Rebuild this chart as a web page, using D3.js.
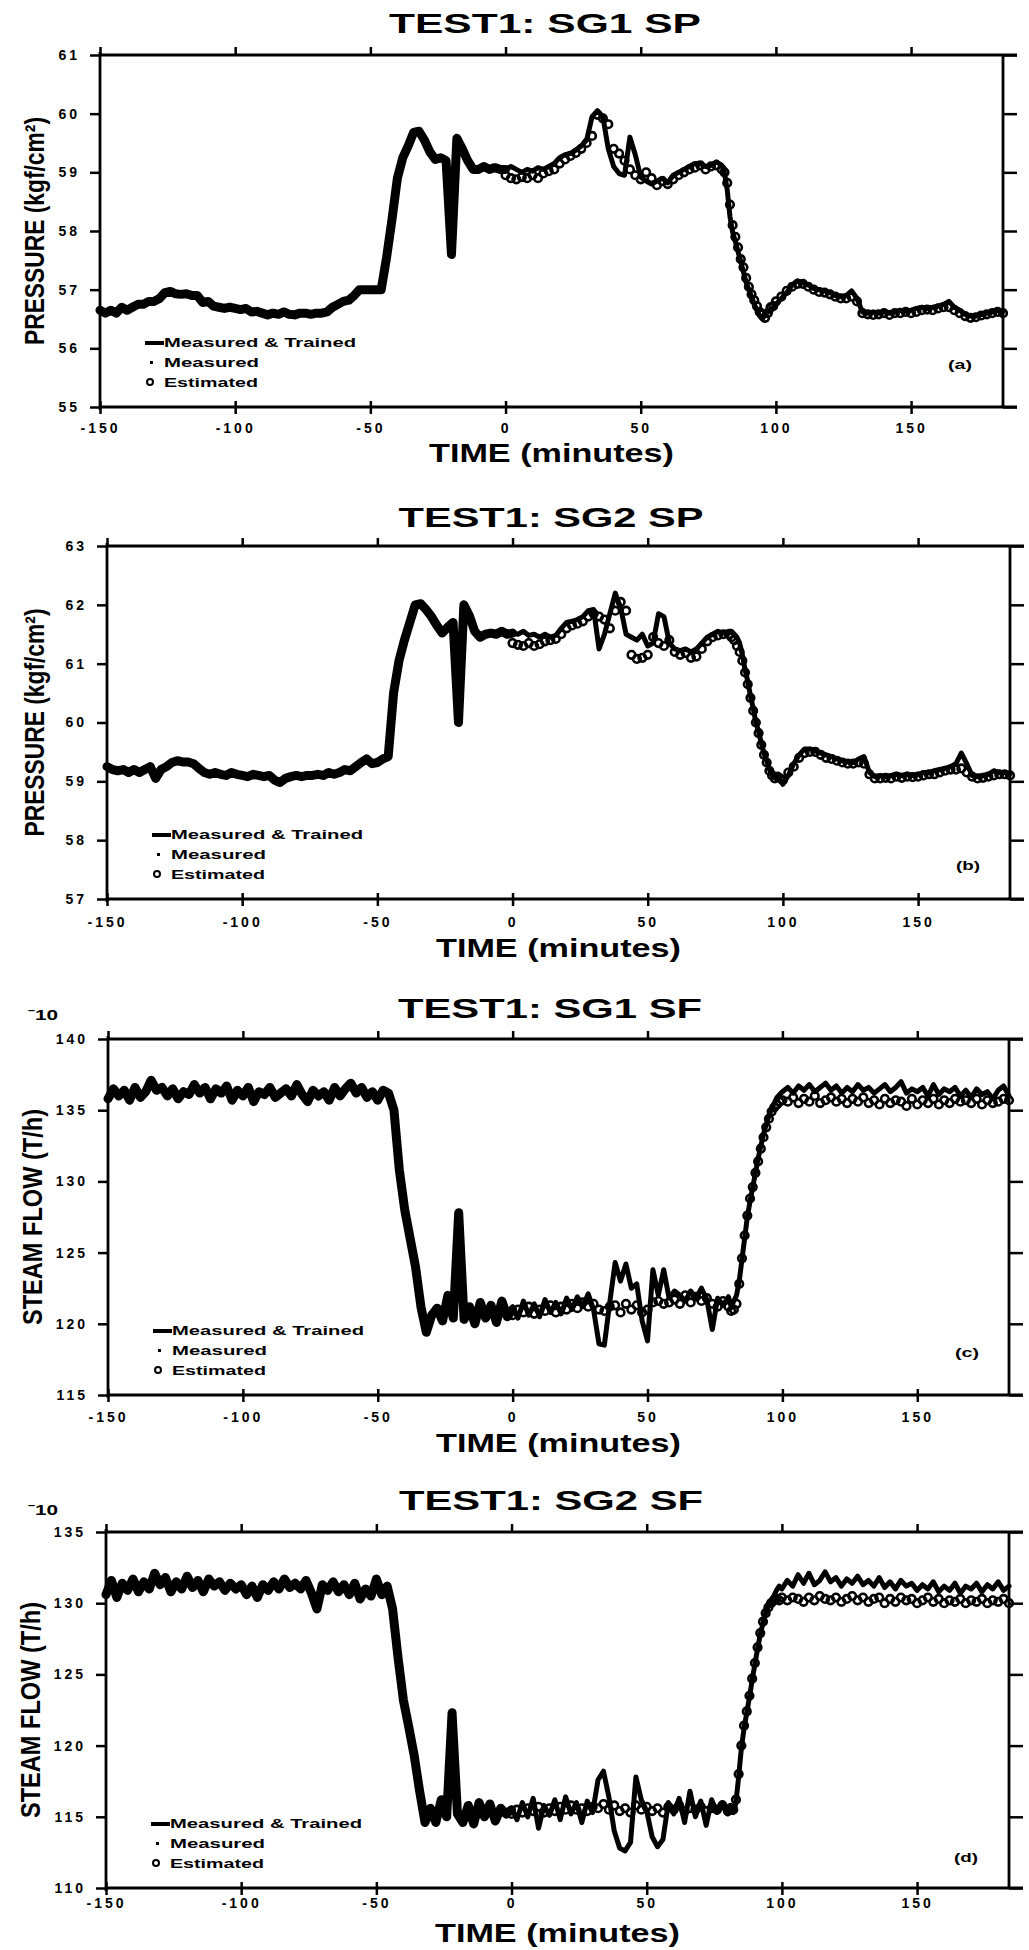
<!DOCTYPE html>
<html>
<head>
<meta charset="utf-8">
<script src="https://cdn.jsdelivr.net/npm/d3@7.9.0/dist/d3.min.js"></script>
<style>
  body { margin: 0; background: #fff; }
  svg { display: block; }
  text { font-family: "Liberation Sans", Arial, sans-serif; fill: #000; }
</style>
</head>
<body>
<svg id="chart" width="1029" height="1950"></svg>
<script>
// time grids (minutes)
const timeTrain = [
  -150, -148, -146, -144, -142, -140, -138, -136, -134, -132,
  -130, -128, -126, -124, -122, -120, -118, -116, -114, -112,
  -110, -108, -106, -104, -102, -100, -98, -96, -94, -92,
  -90, -88, -86, -84, -82, -80, -78, -76, -74, -72,
  -70, -68, -66, -64, -62, -60, -58, -56, -54, -52,
  -50, -48, -46, -44, -42, -40, -38, -36, -34, -32,
  -30, -28, -26, -24, -22, -20, -18, -16, -14, -12,
  -10, -8, -6, -4, -2, 0
];
const timeTest = [
  0, 2, 4, 6, 8, 10, 12, 14, 16, 18,
  20, 22, 24, 26, 28, 30, 32, 34, 36, 38,
  40, 42, 44, 46, 48, 50, 52, 54, 56, 58,
  60, 62, 64, 66, 68, 70, 72, 74, 76, 78,
  80, 81, 82, 83, 84, 85, 86, 87, 88, 89,
  90, 91, 92, 93, 94, 95, 96, 97, 98, 99,
  100, 102, 104, 106, 108, 110, 112, 114, 116, 118,
  120, 122, 124, 126, 128, 130, 132, 134, 136, 138,
  140, 142, 144, 146, 148, 150, 152, 154, 156, 158,
  160, 162, 164, 166, 168, 170, 172, 174, 176, 178,
  180, 182, 184
];

const xTicks = [-150, -100, -50, 0, 50, 100, 150];

// (a) SG1 steam pressure
const sg1spTicks = [55, 56, 57, 58, 59, 60, 61];
const sg1spTrained = [
  56.65, 56.6, 56.65, 56.6, 56.7, 56.65, 56.7, 56.75, 56.75, 56.8,
  56.8, 56.85, 56.95, 56.97, 56.93, 56.92, 56.93, 56.9, 56.9, 56.78,
  56.8, 56.72, 56.7, 56.68, 56.7, 56.68, 56.66, 56.68, 56.62, 56.63,
  56.6, 56.57, 56.6, 56.58, 56.62, 56.58, 56.57, 56.6, 56.6, 56.58,
  56.6, 56.6, 56.62, 56.7, 56.75, 56.8, 56.82, 56.9, 57.0, 57.0,
  57.0, 57.0, 57.0, 57.55, 58.2, 58.9, 59.25, 59.45, 59.68, 59.7,
  59.55, 59.35, 59.22, 59.25, 59.2, 57.6, 59.58, 59.4, 59.2, 59.05,
  59.05, 59.1, 59.05, 59.08, 59.05, 59.05
];
const sg1spMeasured = [
  59.05, 59.1, 59.05, 59.0, 59.05, 59.02, 59.08, 59.05, 59.1, 59.15,
  59.25, 59.3, 59.32, 59.38, 59.45, 59.55, 59.95, 60.05, 59.95, 59.4,
  59.1, 58.98, 58.95, 59.6, 59.3, 58.92, 58.85, 58.8, 58.85, 58.9,
  58.82, 58.95, 59.0, 59.05, 59.1, 59.15, 59.15, 59.1, 59.12, 59.18,
  59.12, 58.98, 58.7, 58.25, 57.98, 57.82, 57.65, 57.48, 57.3, 57.12,
  57.0, 56.88, 56.75, 56.65, 56.55, 56.5, 56.58, 56.65, 56.62, 56.7,
  56.75, 56.85, 56.95, 57.08, 57.15, 57.12, 57.08, 57.02, 57.0, 56.98,
  56.95, 56.9, 56.88, 56.9, 56.98, 56.85, 56.62, 56.6, 56.62, 56.6,
  56.63, 56.6, 56.62, 56.65, 56.63, 56.65, 56.68, 56.7, 56.68, 56.7,
  56.72, 56.75, 56.8, 56.7, 56.65, 56.58, 56.55, 56.55, 56.58, 56.6,
  56.62, 56.65, 56.63
];
const sg1spEstimated = [
  58.95, 58.9, 58.88, 58.92, 58.9, 58.95, 58.9, 58.98, 59.02, 59.05,
  59.15, 59.22, 59.28, 59.33, 59.4, 59.5, 59.62, 59.98, 59.92, 59.82,
  59.4, 59.32, 59.2, 59.05, 58.95, 58.88, 59.0, 58.9, 58.78, 58.85,
  58.8, 58.88, 58.95, 59.0, 59.05, 59.08, 59.12, 59.05, 59.1, 59.12,
  59.05, 59.0, 58.82, 58.45, 58.1, 57.9, 57.72, 57.52, 57.38, 57.2,
  57.05, 56.92, 56.82, 56.72, 56.62, 56.58, 56.52, 56.6, 56.7, 56.72,
  56.8, 56.88, 56.98, 57.05, 57.1, 57.1, 57.05, 57.0, 56.96, 56.95,
  56.92, 56.88, 56.85, 56.85, 56.88, 56.8, 56.6, 56.58, 56.57, 56.58,
  56.6, 56.57, 56.6, 56.6, 56.62, 56.6, 56.62, 56.65, 56.66, 56.65,
  56.68, 56.7, 56.7, 56.65, 56.6, 56.55, 56.52, 56.53, 56.56, 56.58,
  56.6, 56.62, 56.6
];

// (b) SG2 steam pressure
const sg2spTicks = [57, 58, 59, 60, 61, 62, 63];
const sg2spTrained = [
  59.25, 59.2, 59.18, 59.2, 59.15, 59.2, 59.15, 59.2, 59.25, 59.05,
  59.2, 59.25, 59.32, 59.35, 59.33, 59.33, 59.3, 59.22, 59.15, 59.12,
  59.15, 59.12, 59.1, 59.15, 59.12, 59.1, 59.08, 59.12, 59.1, 59.08,
  59.1, 59.02, 58.98, 59.05, 59.08, 59.1, 59.08, 59.1, 59.1, 59.12,
  59.1, 59.15, 59.12, 59.15, 59.2, 59.18, 59.25, 59.32, 59.38, 59.3,
  59.32, 59.38, 59.42, 60.5, 61.05, 61.4, 61.7, 62.0, 62.02, 61.92,
  61.8, 61.65, 61.52, 61.62, 61.7, 60.0, 62.0, 61.82, 61.55, 61.45,
  61.5, 61.52, 61.5, 61.55, 61.5, 61.52
];
const sg2spMeasured = [
  61.52, 61.5, 61.55, 61.48, 61.5, 61.45, 61.5, 61.45, 61.48, 61.6,
  61.7, 61.72, 61.75, 61.8, 61.9, 61.92, 61.25, 61.5, 61.85, 62.2,
  61.95, 61.5, 61.45, 61.4, 61.5, 61.3, 61.35, 61.85, 61.8, 61.35,
  61.25, 61.22, 61.25, 61.2, 61.25, 61.35, 61.45, 61.5, 61.55, 61.52,
  61.55, 61.55, 61.5, 61.45, 61.35, 61.15, 60.9, 60.7, 60.45, 60.25,
  60.0, 59.85, 59.65, 59.48, 59.35, 59.2, 59.12, 59.08, 59.05, 59.02,
  58.95, 59.1, 59.3, 59.45, 59.55, 59.55, 59.52, 59.48, 59.45, 59.42,
  59.38, 59.35, 59.33, 59.32, 59.38, 59.42, 59.15, 59.08, 59.1, 59.08,
  59.1, 59.12, 59.1, 59.12, 59.1, 59.12, 59.15, 59.15, 59.18, 59.2,
  59.22, 59.25, 59.3, 59.48, 59.3, 59.1, 59.08, 59.1, 59.12, 59.18,
  59.15, 59.15, 59.13
];
const sg2spEstimated = [
  61.35, 61.32, 61.3, 61.35, 61.3, 61.33, 61.38, 61.4, 61.42, 61.5,
  61.6, 61.65, 61.68, 61.72, 61.8, 61.85, 61.8, 61.75, 61.6, 61.9,
  62.05, 61.9, 61.15, 61.08, 61.1, 61.15, 61.45, 61.35, 61.3, 61.4,
  61.2, 61.15, 61.18, 61.1, 61.12, 61.25, 61.38, 61.45, 61.48, 61.5,
  61.5, 61.45, 61.4, 61.3, 61.2, 61.05, 60.85, 60.65, 60.42, 60.2,
  60.0, 59.82, 59.62, 59.45, 59.32, 59.18, 59.1, 59.05, 59.08, 59.05,
  59.02, 59.15, 59.25, 59.4, 59.48, 59.5, 59.5, 59.45, 59.4, 59.38,
  59.35, 59.32, 59.3, 59.3, 59.32, 59.3, 59.12, 59.05, 59.05, 59.06,
  59.05, 59.08, 59.06, 59.08, 59.07, 59.08, 59.1, 59.12, 59.12, 59.15,
  59.18, 59.2, 59.2, 59.22, 59.15, 59.08, 59.05, 59.06, 59.08, 59.1,
  59.12, 59.12, 59.1
];

// (c) SG1 steam flow (x10)
const sg1sfTicks = [115, 120, 125, 130, 135, 140];
const sg1sfTrained = [
  135.8, 136.5, 136.0, 136.4, 135.7, 136.6, 135.9, 136.3, 137.1, 136.4,
  136.6, 136.0, 136.5, 135.8, 136.3, 136.1, 136.8, 136.2, 136.6, 135.8,
  136.5, 136.2, 136.7, 135.7, 136.4, 136.0, 136.6, 135.6, 136.3, 136.1,
  136.6, 135.9, 136.2, 136.5, 136.0, 136.8, 136.1, 135.6, 136.4, 136.0,
  136.3, 135.7, 136.6, 136.0, 136.5, 136.9, 136.2, 136.6, 135.9, 136.3,
  135.7, 136.4, 136.2, 135.0, 130.8, 128.0, 126.0, 124.0, 121.2, 119.4,
  120.6, 121.1, 120.2, 122.0, 120.4, 127.8, 120.3, 121.2, 120.0, 121.5,
  120.4, 121.3, 120.1, 121.6, 120.5, 121.0
];
const sg1sfMeasured = [
  121.2, 120.4, 121.6, 120.6, 121.4, 120.5, 121.7, 120.8, 121.5, 120.7,
  121.8, 121.0, 121.9, 121.2, 122.1, 121.0, 118.6, 118.5, 121.5, 124.3,
  123.0, 124.2, 122.5, 122.8, 120.2, 118.8, 123.8, 122.0, 123.8, 121.8,
  122.3, 122.0, 121.6, 122.3, 121.8, 122.5, 121.7, 119.6, 121.8, 121.3,
  121.9, 121.2, 121.6, 122.0, 123.0, 124.5, 126.0, 127.5, 128.6, 129.6,
  130.6, 131.6, 132.5, 133.3, 134.0, 134.6, 135.1, 135.5, 135.9, 136.1,
  136.3, 136.6, 136.2, 136.7, 136.4, 136.8, 136.3, 136.6, 136.9, 136.4,
  136.7, 136.2, 136.6, 136.3, 136.8, 136.4, 136.6, 136.2, 136.5, 136.8,
  136.3, 136.6, 137.0, 136.2, 136.5, 136.3, 136.6, 136.0, 136.8, 136.1,
  136.5, 136.3, 136.6, 136.0, 136.4, 135.9, 136.5, 136.1, 136.3, 135.8,
  136.4, 136.7, 136.0
];
const sg1sfEstimated = [
  120.6, 121.0, 120.8, 121.2, 120.7, 121.0, 120.9, 121.3, 120.8, 121.2,
  121.0, 121.4, 121.1, 121.5, 121.2, 121.4, 121.0, 120.9, 121.2, 121.3,
  120.8, 121.4, 121.0, 121.3, 120.8, 121.0, 121.5, 121.6, 121.4, 121.5,
  121.7, 121.4, 122.0, 121.5, 121.9, 121.6, 121.8, 121.4, 121.2, 121.6,
  121.2, 120.9, 121.0, 121.4, 122.8, 124.6, 126.2, 127.6, 128.8, 129.6,
  130.6, 131.4, 132.3, 133.1, 133.8, 134.4, 134.9, 135.2, 135.4, 135.6,
  135.7, 135.6, 135.9, 135.5, 135.8, 135.6, 136.0, 135.5, 135.7, 135.9,
  135.6, 135.8, 135.5, 135.8, 135.6, 135.9, 135.5, 135.7, 135.4, 135.8,
  135.5, 135.7, 135.6, 135.3, 135.8, 135.4, 135.7, 135.5, 135.8, 135.4,
  135.7, 135.5, 135.8, 135.6, 135.7, 135.5, 135.8, 135.4, 135.7, 135.5,
  135.6, 135.8, 135.7
];

// (d) SG2 steam flow (x10)
const sg2sfTicks = [110, 115, 120, 125, 130, 135];
const sg2sfTrained = [
  130.6, 131.6, 130.4, 131.4, 130.9, 131.7, 130.8, 131.5, 131.0, 132.1,
  131.3, 131.8, 130.8, 131.5, 131.0, 131.9, 131.1, 131.6, 130.8, 131.7,
  131.2, 131.5, 130.9, 131.4, 131.0, 131.3, 130.6, 131.2, 130.4, 131.3,
  130.9, 131.5, 131.0, 131.7, 131.1, 131.4, 131.0, 131.6, 130.7, 129.6,
  131.3, 130.9, 131.5, 130.8, 131.3, 130.6, 131.4, 130.3, 131.0, 130.5,
  131.7, 130.6, 131.2, 129.6, 126.2, 123.2, 121.3, 119.3, 116.8, 114.6,
  115.6, 114.6, 116.2, 115.0, 122.3, 115.2, 114.6, 115.8, 114.5, 116.0,
  115.0, 115.9, 114.7, 115.6, 115.2, 115.5
];
const sg2sfMeasured = [
  115.6, 114.8, 116.0, 115.0, 116.3, 114.2, 115.8, 115.1, 116.2, 114.8,
  116.4, 115.2, 116.0, 114.6, 116.1, 115.3, 117.6, 118.2, 116.4, 114.0,
  112.8, 112.6, 113.2, 117.8, 116.2, 115.4, 113.6, 112.9, 113.4, 116.0,
  115.2, 116.3, 114.6, 116.8, 115.0, 116.1, 114.4, 116.2, 115.3, 116.0,
  115.2, 115.8, 115.3, 116.0, 117.8, 119.8, 121.2, 122.3, 123.4, 124.6,
  125.7, 126.8, 127.8, 128.6, 129.3, 129.8, 130.2, 130.5, 130.9, 131.2,
  131.0, 131.6, 131.2, 132.0, 131.4, 132.1, 131.3, 131.6, 132.2, 131.5,
  131.8, 131.2, 131.7, 131.4, 131.9, 131.3, 131.6, 131.2, 131.8, 131.1,
  131.5, 131.0, 131.6, 131.2, 131.4, 130.9, 131.3, 131.0, 131.5, 130.8,
  131.2, 130.9, 131.4, 130.7, 131.2, 131.0, 131.4, 130.8, 131.3, 131.0,
  131.5, 130.9, 131.2
];
const sg2sfEstimated = [
  115.2, 115.5, 115.3, 115.6, 115.4, 115.7, 115.3, 115.6, 115.4, 115.7,
  115.5, 115.8, 115.5, 115.6, 115.4, 115.7, 115.6, 115.9, 115.5, 115.8,
  115.4, 115.6, 115.3, 115.8, 115.5, 115.7, 115.4, 115.6, 115.3, 115.7,
  115.5, 115.8, 115.4, 115.6, 115.5, 115.7, 115.4, 115.6, 115.5, 115.8,
  115.4, 115.6, 115.5, 116.2, 118.0, 120.0, 121.4, 122.4, 123.5, 124.7,
  125.8, 126.9, 127.9, 128.7, 129.3, 129.7, 130.0, 130.2, 130.3, 130.2,
  130.4, 130.2, 130.4, 130.3, 130.1, 130.4, 130.2, 130.5, 130.3, 130.2,
  130.4, 130.1, 130.3, 130.5, 130.2, 130.4, 130.1, 130.3, 130.4, 130.0,
  130.3, 130.1, 130.4, 130.2, 130.3, 130.0, 130.2, 130.4, 130.1, 130.3,
  130.0, 130.2, 130.1, 130.3, 130.0, 130.2, 130.1, 130.3, 130.0, 130.2,
  130.1, 130.3, 130.0
];

// panel setup: data + where each one sits on the page
const panels = [
  { title: 'TEST1: SG1 SP', tag: '(a)', yLabel: 'PRESSURE (kgf/cm²)', yTicks: sg1spTicks,
    trained: sg1spTrained, measured: sg1spMeasured, estimated: sg1spEstimated,
    left: 100, right: 1003, top: 55, bottom: 407, titleX: 545, titleY: 33, titleLen: 312,
    tickBase: 26, xLabelY: 462, yLabelX: 44, tagX: 960, tagY: 369 },
  { title: 'TEST1: SG2 SP', tag: '(b)', yLabel: 'PRESSURE (kgf/cm²)', yTicks: sg2spTicks,
    trained: sg2spTrained, measured: sg2spMeasured, estimated: sg2spEstimated,
    left: 107, right: 1010, top: 546, bottom: 899, titleX: 551, titleY: 527, titleLen: 305,
    tickBase: 28, xLabelY: 957, yLabelX: 44, tagX: 968, tagY: 870 },
  { title: 'TEST1: SG1 SF', tag: '(c)', yLabel: 'STEAM FLOW (T/h)', yTicks: sg1sfTicks, scaleNote: 'ˉ10',
    trained: sg1sfTrained, measured: sg1sfMeasured, estimated: sg1sfEstimated,
    left: 108, right: 1009, top: 1039, bottom: 1395, titleX: 550, titleY: 1018, titleLen: 304,
    tickBase: 27, xLabelY: 1452, yLabelX: 42, tagX: 967, tagY: 1357, noteY: 1020 },
  { title: 'TEST1: SG2 SF', tag: '(d)', yLabel: 'STEAM FLOW (T/h)', yTicks: sg2sfTicks, scaleNote: 'ˉ10',
    trained: sg2sfTrained, measured: sg2sfMeasured, estimated: sg2sfEstimated,
    left: 106, right: 1009, top: 1532, bottom: 1888, titleX: 551, titleY: 1510, titleLen: 304,
    tickBase: 20, xLabelY: 1942, yLabelX: 40, tagX: 966, tagY: 1862, noteY: 1515 }
];

const svg = d3.select('#chart');
const fontFamily = '"Liberation Sans", Arial, sans-serif';

function styleAxis(sel) {
  sel.attr('font-family', fontFamily)
     .attr('font-size', 14)
     .attr('font-weight', 'bold');
  sel.select('.domain').remove();
  sel.selectAll('.tick line').attr('stroke', '#000').attr('stroke-width', 2.5);
  sel.selectAll('.tick text').attr('letter-spacing', 3).attr('fill', '#000');
}

function drawPanel(p) {
  let g = svg.append('g');

  let x = d3.scaleLinear().domain([-150, 184]).range([p.left, p.right]);
  let yDom = d3.extent(p.yTicks);
  let y = d3.scaleLinear().domain(yDom).range([p.bottom, p.top]);

  // axes
  let bottomAxis = g.append('g')
    .attr('transform', `translate(0,${p.bottom})`)
    .call(d3.axisBottom(x).tickValues(xTicks).tickSize(7).tickSizeOuter(0)
      .tickPadding(p.tickBase - 17).tickFormat(d => String(d)));
  styleAxis(bottomAxis);
  bottomAxis.selectAll('.tick line').attr('y1', -6);

  let topAxis = g.append('g')
    .attr('transform', `translate(0,${p.top})`)
    .call(d3.axisTop(x).tickValues(xTicks).tickSize(8).tickSizeOuter(0).tickFormat(''));
  styleAxis(topAxis);

  let leftAxis = g.append('g')
    .attr('transform', `translate(${p.left},0)`)
    .call(d3.axisLeft(y).tickValues(p.yTicks).tickSize(10).tickSizeOuter(0)
      .tickPadding(10).tickFormat(d => String(d)));
  styleAxis(leftAxis);

  let rightAxis = g.append('g')
    .attr('transform', `translate(${p.right},0)`)
    .call(d3.axisRight(y).tickValues(p.yTicks).tickSize(14).tickSizeOuter(0).tickFormat(''));
  styleAxis(rightAxis);

  // frame
  let [x0, x1] = x.range();
  let frame = [
    [x0, p.top, x1 + 14, p.top],
    [x0, p.bottom, x1 + 14, p.bottom],
    [x0, p.top - 3, x0, p.bottom + 3],
    [x1, p.top, x1, p.bottom]
  ];
  g.selectAll('line.frame').data(frame).join('line')
    .attr('class', 'frame')
    .attr('x1', d => d[0]).attr('y1', d => d[1])
    .attr('x2', d => d[2]).attr('y2', d => d[3])
    .attr('stroke', '#000').attr('stroke-width', 2.8);

  // series
  let line = d3.line().x(d => x(d[0])).y(d => y(d[1]));

  g.append('path')
    .attr('d', line(d3.zip(timeTrain, p.trained)))
    .attr('fill', 'none').attr('stroke', '#000')
    .attr('stroke-width', 9)
    .attr('stroke-linejoin', 'round').attr('stroke-linecap', 'round');

  g.append('path')
    .attr('d', line(d3.zip(timeTest, p.measured)))
    .attr('fill', 'none').attr('stroke', '#000')
    .attr('stroke-width', 5)
    .attr('stroke-linejoin', 'round').attr('stroke-linecap', 'round');

  g.selectAll('circle.est').data(d3.zip(timeTest, p.estimated)).join('circle')
    .attr('class', 'est')
    .attr('cx', d => x(d[0])).attr('cy', d => y(d[1]))
    .attr('r', 3.8)
    .attr('fill', 'none').attr('stroke', '#000').attr('stroke-width', 2.6);

  // texts
  g.append('text')
    .attr('x', p.titleX).attr('y', p.titleY)
    .attr('text-anchor', 'middle')
    .attr('font-size', 28).attr('font-weight', 'bold')
    .attr('textLength', p.titleLen).attr('lengthAdjust', 'spacingAndGlyphs')
    .text(p.title);

  g.append('text')
    .attr('x', (x0 + x1) / 2).attr('y', p.xLabelY)
    .attr('text-anchor', 'middle')
    .attr('font-size', 26).attr('font-weight', 'bold')
    .attr('textLength', 245).attr('lengthAdjust', 'spacingAndGlyphs')
    .text('TIME (minutes)');

  g.append('text')
    .attr('transform', `translate(${p.yLabelX},${(p.top + p.bottom) / 2}) rotate(-90)`)
    .attr('text-anchor', 'middle')
    .attr('font-size', 27).attr('font-weight', 'bold')
    .attr('textLength', p.yLabel.startsWith('P') ? 228 : 216)
    .attr('lengthAdjust', 'spacingAndGlyphs')
    .text(p.yLabel);

  g.append('text')
    .attr('x', p.tagX).attr('y', p.tagY)
    .attr('text-anchor', 'middle')
    .attr('font-size', 12).attr('font-weight', 'bold')
    .attr('textLength', 24).attr('lengthAdjust', 'spacingAndGlyphs')
    .text(p.tag);

  if (p.scaleNote) {
    g.append('text')
      .attr('x', 28).attr('y', p.noteY)
      .attr('font-size', 15).attr('font-weight', 'bold')
      .attr('textLength', 30).attr('lengthAdjust', 'spacingAndGlyphs')
      .text(p.scaleNote);
  }

  // legend
  let lx = p.left + 45;
  let tx = p.left + 64;
  let rows = [p.bottom - 63, p.bottom - 43, p.bottom - 23];
  g.append('line')
    .attr('x1', lx).attr('x2', tx).attr('y1', rows[0] - 1).attr('y2', rows[0] - 1)
    .attr('stroke', '#000').attr('stroke-width', 4);
  g.append('rect')
    .attr('x', lx + 5).attr('y', rows[1] - 3).attr('width', 3).attr('height', 3)
    .attr('fill', '#000');
  g.append('circle')
    .attr('cx', lx + 5).attr('cy', rows[2] - 2).attr('r', 3)
    .attr('fill', 'none').attr('stroke', '#000').attr('stroke-width', 2);

  let legendItems = [
    { label: 'Measured & Trained', len: 192 },
    { label: 'Measured', len: 95 },
    { label: 'Estimated', len: 94 }
  ];
  legendItems.forEach((item, i) => {
    g.append('text')
      .attr('x', tx).attr('y', rows[i] + 3)
      .attr('font-size', 12).attr('font-weight', 'bold')
      .attr('textLength', item.len).attr('lengthAdjust', 'spacingAndGlyphs')
      .text(item.label);
  });
}

panels.forEach(drawPanel);
</script>
</body>
</html>
